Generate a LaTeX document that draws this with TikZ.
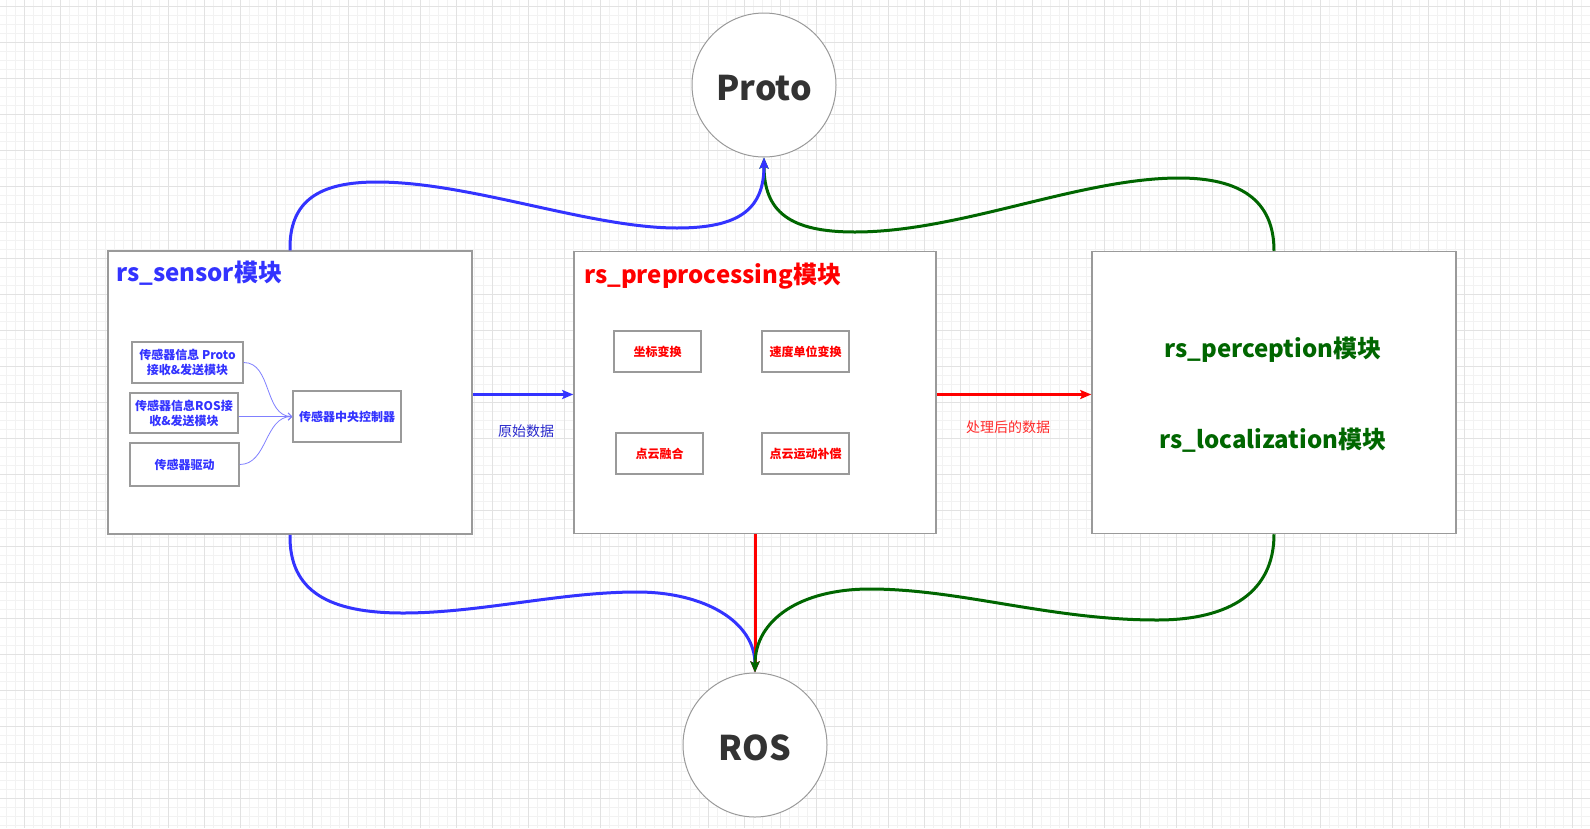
\documentclass[tikz,border=0pt]{standalone}
\usepackage{fontspec}
\setmainfont{Noto Sans CJK SC}
\usetikzlibrary{arrows.meta}
\definecolor{cblue}{HTML}{3333FF}
\definecolor{cgreen}{HTML}{006600}
\definecolor{cred}{HTML}{FF0000}
\definecolor{cgray}{HTML}{9A9A9A}
\definecolor{gminor}{HTML}{F2F2F2}
\definecolor{gmajor}{HTML}{E2E2E2}
\definecolor{ctext}{HTML}{333333}
\definecolor{lblue}{HTML}{8080FF}
\definecolor{labblue}{HTML}{2A2ACC}
\definecolor{labred}{HTML}{FF2A2A}
\tikzset{
  bigbox/.style={draw=cgray, line width=1.5pt, fill=white, inner sep=0pt},
  smallbox/.style={draw=cgray, line width=1.5pt, fill=white, inner sep=0pt, align=center,
    font=\fontsize{12}{15}\selectfont\bfseries},
  endpoint/.style={circle, draw=cgray, line width=1pt, fill=white, minimum size=144pt, inner sep=0pt,
    text=ctext, font=\fontsize{34}{40}\selectfont\bfseries, text height=31pt, text depth=0pt},
  title/.style={inner sep=0pt, font=\fontsize{24}{28}\selectfont\bfseries},
  lab/.style={inner sep=0pt, font=\fontsize{14}{17}\selectfont},
  flow/.style={line width=3pt, -{Stealth[length=11pt,width=9pt,inset=2pt]}},
  subflow/.style={draw=lblue, line width=0.8pt, -{Straight Barb[length=3.5pt,width=7pt]}},
}
\begin{document}
\begin{tikzpicture}[x=1pt,y=-1pt]
\useasboundingbox (0,0) rectangle (1590,828);
\fill[white] (0,0) rectangle (1590,828);
% grid
\foreach \x in {6,15,...,1590} \draw[gminor, line width=1pt] (\x,0) -- (\x,828);
\foreach \y in {6,15,...,828} \draw[gminor, line width=1pt] (0,\y) -- (1590,\y);
\foreach \x in {24,60,...,1590} \draw[gmajor, line width=1pt] (\x,0) -- (\x,828);
\foreach \y in {6,42,...,828} \draw[gmajor, line width=1pt] (0,\y) -- (1590,\y);

% main boxes
\node[bigbox, minimum width=364pt, minimum height=283pt] (sensor) at (290,392.5) {};
\node[bigbox, minimum width=362pt, minimum height=282pt] (pre) at (755,392.5) {};
\node[bigbox, minimum width=364pt, minimum height=282pt] (right) at (1274,392.5) {};

\node[endpoint] (proto) at (764,85) {Proto};
\node[endpoint] (ros) at (755,745) {ROS};

% titles
\node[title, text=cblue, anchor=west] (tsensor) at (116,273) {rs\_sensor模块};
\node[title, text=cred, anchor=west] (tpre) at (584,276) {rs\_preprocessing模块};
\node[title, text=cgreen] (tperc) at (1273,350) {rs\_perception模块};
\node[title, text=cgreen] (tloc) at (1273,440) {rs\_localization模块};

% sensor inner boxes
\node[smallbox, text=cblue, minimum width=111pt, minimum height=41pt] (sp) at (187.5,362.5) {传感器信息 Proto\\接收\&发送模块};
\node[smallbox, text=cblue, minimum width=108pt, minimum height=40pt] (sr) at (184,413) {传感器信息ROS接\\收\&发送模块};
\node[smallbox, text=cblue, minimum width=109pt, minimum height=43pt] (sd) at (184.5,464.5) {传感器驱动};
\node[smallbox, text=cblue, minimum width=108pt, minimum height=51pt] (sc) at (347,416.5) {传感器中央控制器};

\draw[subflow] (sp.east) to[out=0,in=180] (sc.west);
\draw[subflow] (sr.east |- sc.west) -- (sc.west);
\draw[subflow] (sd.east) to[out=0,in=180] (sc.west);

% preprocessing inner boxes
\node[smallbox, text=cred, minimum width=87pt, minimum height=41pt] (p1) at (657.5,351.5) {坐标变换};
\node[smallbox, text=cred, minimum width=87pt, minimum height=41pt] (p2) at (805.5,351.5) {速度单位变换};
\node[smallbox, text=cred, minimum width=87pt, minimum height=41pt] (p3) at (659.5,453.5) {点云融合};
\node[smallbox, text=cred, minimum width=87pt, minimum height=41pt] (p4) at (805.5,453.5) {点云运动补偿};

% horizontal flows
\draw[flow, cblue] ([yshift=-2pt]sensor.east) -- ([yshift=-2pt]pre.west);
\draw[flow, cred] ([yshift=-2pt]pre.east) -- ([yshift=-2pt]right.west);
\node[lab, text=labblue] (l1) at (526,431) {原始数据};
\node[lab, text=labred] (l2) at (1008,427) {处理后的数据};

% top curves
\draw[flow, cgreen] (right.north) .. controls (1274,200) and (1240,178) .. (1179,178)
  .. controls (1080,178) and (960,232) .. (855,232)
  .. controls (790,232) and (764,212) .. (proto.south);
\draw[flow, cblue] (sensor.north) .. controls (289,200) and (320,182) .. (377,182)
  .. controls (470,182) and (590,228) .. (677,228)
  .. controls (738,228) and (764,210) .. (proto.south);

% bottom curves
\draw[flow, cblue] (sensor.south) .. controls (289,592) and (330,613) .. (403,613)
  .. controls (480,613) and (560,592) .. (637,592)
  .. controls (705,592) and (755,622) .. (ros.north);
\draw[flow, cred] (pre.south) -- (ros.north);
\draw[flow, cgreen] (right.south) .. controls (1274,592) and (1230,620) .. (1157,620)
  .. controls (1050,620) and (960,589) .. (870,589)
  .. controls (800,589) and (755,620) .. (ros.north);
\end{tikzpicture}
\end{document}
